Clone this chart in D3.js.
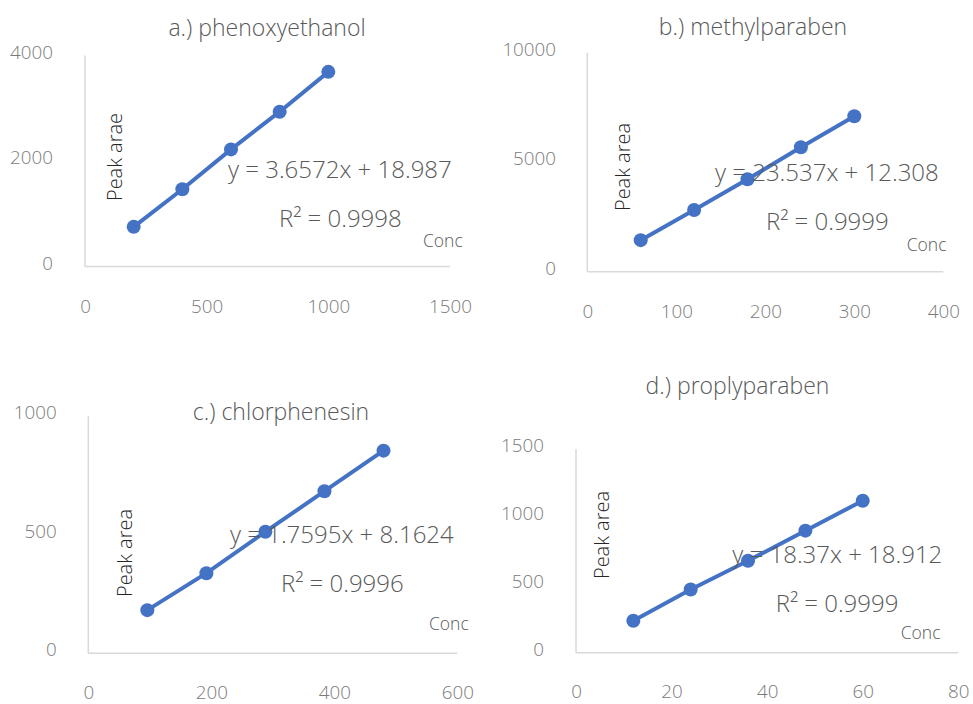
<!DOCTYPE html>
<html><head><meta charset="utf-8">
<script src="https://cdn.jsdelivr.net/npm/d3@7"></script>
<style>
body{margin:0;background:#fff;}
svg{display:block;font-family:"Open Sans","Liberation Sans",Arial,sans-serif;font-weight:300;}
</style></head>
<body><svg id="c" width="973" height="704"></svg>
<script>
// ---- data ----
const titles = ["a.) phenoxyethanol","b.) methylparaben","c.) chlorphenesin","d.) proplyparaben"];
const yLabels = ["Peak arae","Peak area","Peak area","Peak area"];
const xLabel = "Conc";
const equations = ["y = 3.6572x + 18.987","y = 23.537x + 12.308","y = 1.7595x + 8.1624","y = 18.37x + 18.912"];
const r2Labels = ["R² = 0.9998","R² = 0.9999","R² = 0.9996","R² = 0.9999"];

const concA = [200,400,600,800,1000];
const areaA = [752,1465,2220,2935,3690];
const concB = [60,120,180,240,300];
const areaB = [1440,2820,4220,5680,7100];
const concC = [96,192,288,384,480];
const areaC = [182,338,513,684,855];
const concD = [12,24,36,48,60];
const areaD = [236,466,678,900,1121];

const xTicksA=[0,500,1000,1500], yTicksA=[0,2000,4000];
const xTicksB=[0,100,200,300,400], yTicksB=[0,5000,10000];
const xTicksC=[0,200,400,600], yTicksC=[0,500,1000];
const xTicksD=[0,20,40,60,80], yTicksD=[0,500,1000,1500];

// ---- layout ----
const panels = [
 {x:concA,y:areaA,xt:xTicksA,yt:yTicksA,xd:[0,1500],yd:[0,4000],
  L:85,R:450,T:55.5,B:266.5,xlabY:307,ylabR:53,
  title:[267,28],eq:[228,170],r2:[279,219],conc:[423,241],peak:[115,157]},
 {x:concB,y:areaB,xt:xTicksB,yt:yTicksB,xd:[0,400],yd:[0,10000],
  L:587.3,R:943.3,T:52.7,B:271.7,xlabY:311.7,ylabR:556,
  title:[753,26.7],eq:[715,172.7],r2:[766,221.7],conc:[906.7,245],peak:[623.3,167]},
 {x:concC,y:areaC,xt:xTicksC,yt:yTicksC,xd:[0,600],yd:[0,1000],
  L:88.3,R:457.3,T:416.3,B:653.3,xlabY:692.7,ylabR:56.7,
  title:[281,411.7],eq:[230,534.3],r2:[281,583.3],conc:[429,624],peak:[125,553]},
 {x:concD,y:areaD,xt:xTicksD,yt:yTicksD,xd:[0,80],yd:[0,1500],
  L:576,R:958.3,T:449.3,B:652.7,xlabY:691.7,ylabR:544,
  title:[737.5,386],eq:[732.3,554.3],r2:[775.7,603.3],conc:[900.7,633.3],peak:[602.3,535]}
];

const svg = d3.select("#c");
const blue = "#4472C4", grey="#595959", tickGrey="#7a7a7a", axisGrey="#d9d9d9";
const FONT = "'Open Sans','Liberation Sans',Arial,sans-serif";

panels.forEach((p,i)=>{
  const g = svg.append("g");
  const xs = d3.scaleLinear().domain(p.xd).range([p.L,p.R]);
  const ys = d3.scaleLinear().domain(p.yd).range([p.B,p.T]);

  g.append("line").attr("x1",p.L).attr("x2",p.L).attr("y1",p.T).attr("y2",p.B)
    .attr("stroke",axisGrey).attr("stroke-width",1.5);
  g.append("line").attr("x1",p.L).attr("x2",p.R).attr("y1",p.B).attr("y2",p.B)
    .attr("stroke",axisGrey).attr("stroke-width",1.5);

  const ya = g.append("g").attr("transform",`translate(${p.ylabR},-3.5)`)
    .call(d3.axisLeft(ys).tickValues(p.yt).tickSize(0).tickPadding(0).tickFormat(d3.format("d")))
    .attr("font-family",FONT);
  ya.select(".domain").remove();
  ya.selectAll("text").attr("font-size",18.8).attr("fill",tickGrey).attr("font-weight",300);

  const xa = g.append("g").attr("transform",`translate(0,${p.xlabY-7})`)
    .call(d3.axisBottom(xs).tickValues(p.xt).tickSize(0).tickPadding(0).tickFormat(d3.format("d")))
    .attr("font-family",FONT);
  xa.select(".domain").remove();
  xa.selectAll("text").attr("font-size",18.8).attr("fill",tickGrey).attr("font-weight",300);

  const pts = p.x.map((v,k)=>[v,p.y[k]]);
  g.append("path").datum(pts)
    .attr("d",d3.line().x(d=>xs(d[0])).y(d=>ys(d[1])))
    .attr("fill","none").attr("stroke",blue).attr("stroke-width",4);
  g.selectAll("circle").data(pts).join("circle")
    .attr("cx",d=>xs(d[0])).attr("cy",d=>ys(d[1])).attr("r",7).attr("fill",blue);

  g.append("text").attr("x",p.title[0]).attr("y",p.title[1]).attr("dy","0.35em")
    .attr("text-anchor","middle").attr("font-size",23).attr("fill",grey).text(titles[i]);
  g.append("text").attr("x",p.eq[0]).attr("y",p.eq[1]).attr("dy","0.35em")
    .attr("font-size",24).attr("fill",grey).text(equations[i]);
  g.append("text").attr("x",p.r2[0]).attr("y",p.r2[1]).attr("dy","0.35em")
    .attr("font-size",24).attr("fill",grey).text(r2Labels[i]);
  g.append("text").attr("x",p.conc[0]).attr("y",p.conc[1]).attr("dy","0.35em")
    .attr("font-size",17.5).attr("fill",grey).text(xLabel);
  g.append("text").attr("transform",`translate(${p.peak[0]},${p.peak[1]}) rotate(-90)`)
    .attr("dy","0.35em").attr("text-anchor","middle")
    .attr("font-size",20).attr("fill","#262626").text(yLabels[i]);
});
</script></body></html>
